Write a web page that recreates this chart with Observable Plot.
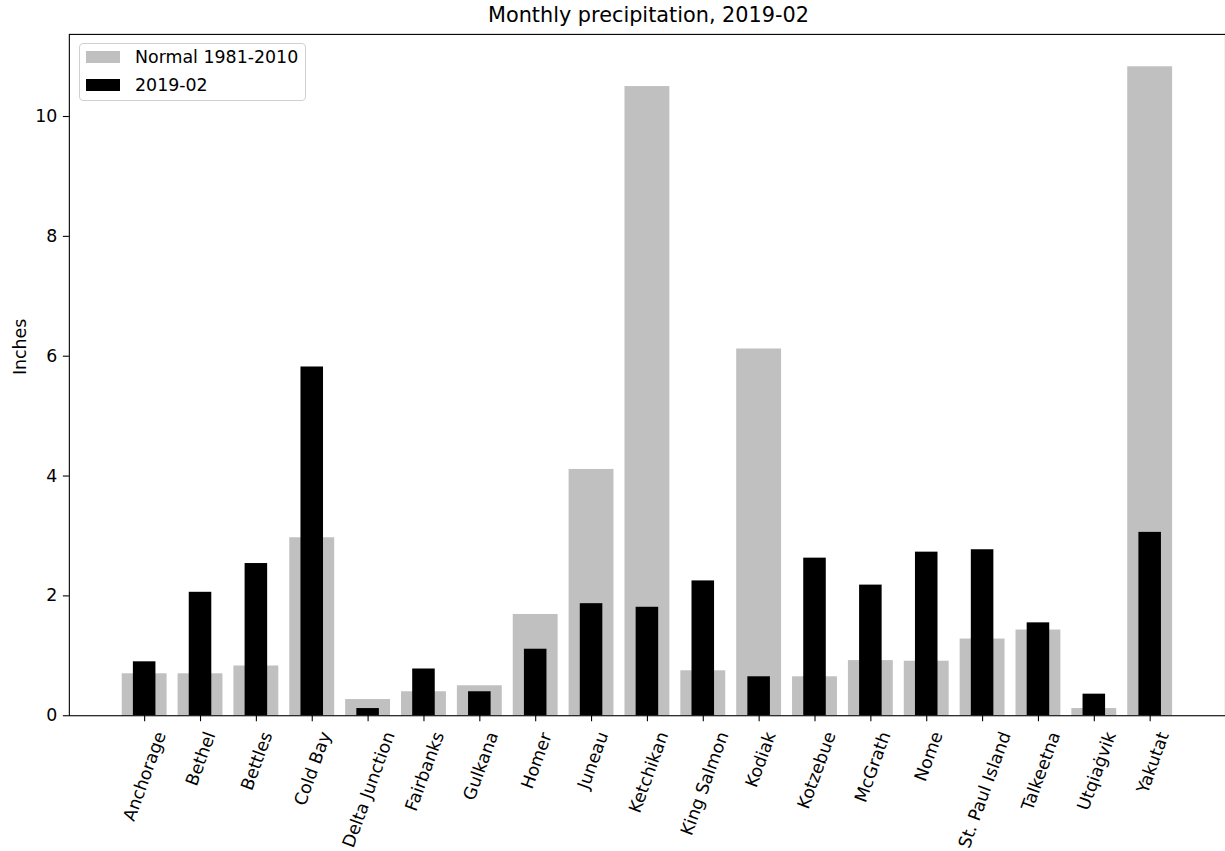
<!DOCTYPE html>
<html>
<head>
<meta charset="utf-8">
<script src="https://cdn.jsdelivr.net/npm/d3@7"></script>
<script src="https://cdn.jsdelivr.net/npm/@observablehq/plot@0.6"></script>
<style>
  html, body { margin: 0; padding: 0; background: #fff; overflow: hidden; }
  #wrap { position: relative; width: 1225px; height: 851px; overflow: hidden; font-family: "DejaVu Sans", sans-serif; }
  #title { position: absolute; left: 0; width: 1297px; top: 5px; text-align: center; font-size: 20.8px; line-height: 20.8px; color: #000; }
  #legend { position: absolute; left: 79px; top: 43px; width: 227px; height: 58px; box-sizing: border-box;
            border: 1px solid #d0d0d0; border-radius: 4px; background: rgba(255,255,255,0.8); font-size: 17.4px; }
  .sw { position: absolute; left: 6px; width: 34px; }
  .lt { position: absolute; left: 55px; line-height: 20px; white-space: nowrap; color: #000; }
</style>
</head>
<body>
<div id="wrap">
  <div id="chart"></div>
  <div id="title">Monthly precipitation, 2019-02</div>
  <div id="legend">
    <div class="sw" style="top:7px;height:12px;background:#c0c0c0"></div>
    <div class="lt" style="top:3px">Normal 1981-2010</div>
    <div class="sw" style="top:35px;height:12px;background:#000"></div>
    <div class="lt" style="top:31px">2019-02</div>
  </div>
</div>
<script>
// Data (inches)
const stations = ["Anchorage", "Bethel", "Bettles", "Cold Bay", "Delta Junction", "Fairbanks", "Gulkana",
  "Homer", "Juneau", "Ketchikan", "King Salmon", "Kodiak", "Kotzebue", "McGrath", "Nome",
  "St. Paul Island", "Talkeetna", "Utqiaġvik", "Yakutat"];
const normals = [0.70, 0.70, 0.83, 2.97, 0.27, 0.40, 0.50, 1.69, 4.11, 10.50, 0.75, 6.12, 0.65, 0.92, 0.91,
  1.28, 1.43, 0.12, 10.83];
const actuals = [0.90, 2.06, 2.54, 5.82, 0.12, 0.78, 0.40, 1.11, 1.87, 1.81, 2.25, 0.65, 2.63, 2.18, 2.73,
  2.77, 1.55, 0.36, 3.06];
const yTicks = [0, 2, 4, 6, 8, 10];
const yLabel = "Inches";

const rows = stations.map((s, i) => ({station: s, normal: normals[i], actual: actuals[i]}));

const W = 1228, H = 851;
const plot = Plot.plot({
  width: W,
  height: H,
  marginLeft: 69,
  marginRight: 0,
  marginTop: 34,
  marginBottom: 134,
  style: {fontFamily: "DejaVu Sans, sans-serif", fontSize: "17.4px", color: "#000", background: "#fff", overflow: "visible"},
  x: {type: "band", domain: stations, paddingInner: 0.2, paddingOuter: 0.94, label: null},
  y: {domain: [0, 11.37], label: null},
  marks: [
    Plot.barY(rows, {x: "station", y: "normal", fill: "#c0c0c0"}),
    Plot.barY(rows, {x: "station", y: "actual", fill: "#000", insetLeft: 11.2, insetRight: 11.2}),
    Plot.frame({stroke: "#000", strokeWidth: 1.1}),
    Plot.axisY({ticks: yTicks, tickSize: 6, tickPadding: 6, strokeWidth: 1.1, label: null}),
    Plot.axisX({tickSize: 6, tickPadding: 6, tickRotate: -70, strokeWidth: 1.1, label: null}),
    Plot.text([yLabel], {frameAnchor: "left", text: d => d, rotate: -90, dx: -49, fontSize: 17.4})
  ]
});
document.getElementById("chart").appendChild(plot);

// Center each rotated tick label's bounding box on its tick (matplotlib-style placement)
const xs = plot.scale("x");
const svgRect = plot.getBoundingClientRect();
const labelTop = 717 + 6 + 6;
plot.querySelectorAll('g[aria-label="x-axis tick label"] text').forEach(t => {
  const name = t.textContent;
  const cx = xs.apply(name) + xs.bandwidth / 2;
  const r = t.getBoundingClientRect();
  const curCx = (r.left + r.right) / 2 - svgRect.left;
  const curTop = r.top - svgRect.top;
  const dx = cx - curCx, dy = labelTop - curTop;
  const prev = t.getAttribute("transform") || "";
  t.setAttribute("transform", `translate(${dx.toFixed(2)},${dy.toFixed(2)}) ${prev}`);
});
</script>
</body>
</html>
